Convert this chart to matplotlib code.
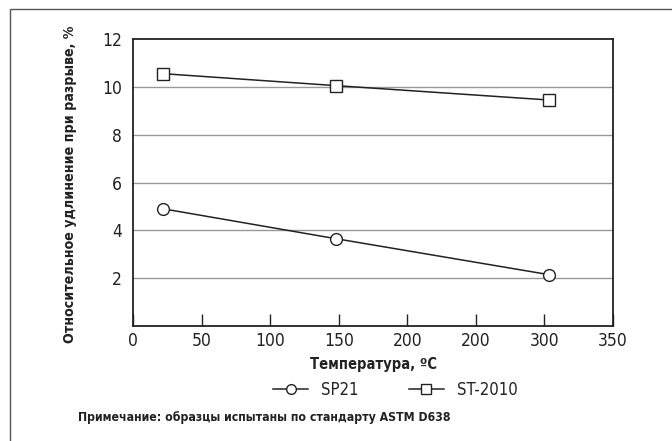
import matplotlib
matplotlib.use("Agg")
import matplotlib.pyplot as plt
from matplotlib.lines import Line2D
from matplotlib.patches import Rectangle

# Data
temperatures = [22, 148, 303]
sp21 = [4.9, 3.65, 2.15]
st2010 = [10.55, 10.05, 9.45]
x_ticks = [0, 50, 100, 150, 200, 250, 300, 350]
x_tick_labels = ["0", "50", "100", "150", "200", "200", "300", "350"]
y_ticks = [2, 4, 6, 8, 10, 12]
y_tick_labels = ["2", "4", "6", "8", "10", "12"]

plt.rcParams["font.family"] = ["DejaVu Sans"]
plt.rcParams["font.stretch"] = "condensed"
ink = "#222222"

fig = plt.figure(figsize=(6.72, 4.41), dpi=100)
ax = fig.add_axes([133 / 672, 1 - 326 / 441, (613 - 133) / 672, (326 - 39) / 441])

# outer frame
fig.patches.append(Rectangle((10 / 672, -0.05), 1.2, 1 - 9 / 441 + 0.05,
                             transform=fig.transFigure, fill=False,
                             edgecolor="#555555", linewidth=1.0))

ax.set_xlim(0, 350)
ax.set_ylim(0, 12)
for y in y_ticks[:-1]:
    ax.axhline(y, color="#999999", linewidth=1.0, zorder=1)

line_kw = dict(color=ink, linewidth=1.1, markersize=8.5,
               markerfacecolor="white", markeredgecolor=ink,
               markeredgewidth=1.0, zorder=3)
ax.plot(temperatures, sp21, marker="o", **line_kw)
ax.plot(temperatures, st2010, marker="s", **line_kw)

ax.set_xticks(x_ticks)
ax.set_xticklabels(x_tick_labels)
ax.set_yticks(y_ticks)
ax.set_yticklabels(y_tick_labels)
ax.tick_params(axis="x", direction="in", length=9, width=1.0, color=ink,
               labelsize=12.5, pad=4, labelcolor=ink)
ax.tick_params(axis="y", length=0, labelsize=12.5, pad=8, labelcolor=ink)
for s in ax.spines.values():
    s.set_linewidth(1.3)
    s.set_color(ink)

fig.text(373 / 672, 1 - 364 / 441, "Температура, ºC", ha="center", va="center",
         fontsize=10.5, fontweight="bold", color=ink)
fig.text(70 / 672, 1 - 184 / 441, "Относительное удлинение при разрыве, %",
         rotation=90, ha="center", va="center", fontsize=10.2, fontweight="bold",
         color=ink)

leg_kw = dict(line_kw, markersize=7)
handles = [
    Line2D([], [], marker="o", **leg_kw),
    Line2D([], [], marker="s", **leg_kw),
]
fig.legend(handles, ["SP21", "ST-2010"], loc="center left",
           bbox_to_anchor=(273 / 672, 1 - 390 / 441), ncol=2, frameon=False,
           fontsize=12, handlelength=2.1, columnspacing=3.0, handletextpad=0.8,
           borderpad=0, borderaxespad=0, labelcolor=ink)

fig.text(78 / 672, 1 - 418 / 441,
         "Примечание: образцы испытаны по стандарту ASTM D638",
         ha="left", va="center", fontsize=8.8, fontweight="bold", color=ink)

fig.savefig("out.png", dpi=100)
